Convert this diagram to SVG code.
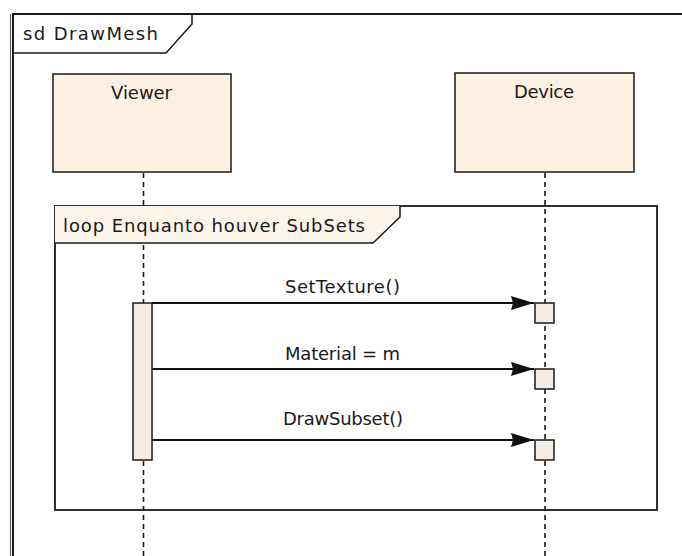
<svg xmlns="http://www.w3.org/2000/svg" width="682" height="556" viewBox="0 0 682 556">
<defs>
<style>
.t{font-family:"DejaVu Sans","Liberation Sans",sans-serif;font-size:18px;fill:#1a1a1a;}
.box{fill:#fbf0e1;stroke:#1a1a1a;stroke-width:1.5;}
.act{fill:#f3ece4;stroke:#1a1a1a;stroke-width:1.5;}
.life{stroke:#1a1a1a;stroke-width:1.6;stroke-dasharray:5 4;fill:none;}
.msg{stroke:#111;stroke-width:1.8;fill:none;}
.frame{fill:none;stroke:#1a1a1a;stroke-width:2;}
</style>
<marker id="ah" markerUnits="userSpaceOnUse" markerWidth="24" markerHeight="16" refX="23" refY="8" orient="auto">
<path d="M0,1 L23,8 L0,15 L2,8 Z" fill="#111"/>
</marker>
</defs>
<rect width="682" height="556" fill="#ffffff"/>
<g id="frame-sd">
<path class="frame" d="M13,556 L13,14 L682,14"/>
<line x1="10.5" y1="14" x2="10.5" y2="556" stroke="#555" stroke-width="1"/>
<path d="M13,53 L166,53 L192,24 L192,14" fill="none" stroke="#1a1a1a" stroke-width="1.5"/>
<text class="t" x="23" y="40" textLength="135" lengthAdjust="spacing">sd DrawMesh</text>
</g>
<g id="lifelines">
<line class="life" x1="143.5" y1="173" x2="143.5" y2="556"/>
<line class="life" x1="545" y1="173" x2="545" y2="556"/>
</g>
<g id="viewer">
<rect class="box" x="53" y="74" width="178" height="98"/>
<text class="t" x="111" y="99" textLength="61" lengthAdjust="spacing">Viewer</text>
</g>
<g id="device">
<rect class="box" x="455" y="73" width="179" height="99"/>
<text class="t" x="514" y="98" textLength="60" lengthAdjust="spacing">Device</text>
</g>
<g id="loop">
<rect x="55" y="206" width="602" height="304" fill="none" stroke="#1a1a1a" stroke-width="1.8"/>
<path d="M55,206 L400,206 L400,217 L373,243 L55,243 Z" fill="#fbf4ea" stroke="none"/>
<path d="M55,243 L373,243 L400,217 L400,206" fill="none" stroke="#1a1a1a" stroke-width="1.5"/>
<text class="t" x="63" y="232" textLength="302" lengthAdjust="spacing">loop Enquanto houver SubSets</text>
</g>
<g id="viewer-activation">
<rect class="act" x="133" y="303" width="19" height="157"/>
</g>
<g id="device-activations">
<rect class="act" x="535" y="303" width="19" height="20"/>
<rect class="act" x="535" y="369" width="19" height="20"/>
<rect class="act" x="535" y="440" width="19" height="20"/>
</g>
<g id="connectors">
<line class="msg" x1="152" y1="303" x2="534" y2="303" marker-end="url(#ah)"/>
<line class="msg" x1="152" y1="369" x2="534" y2="369" marker-end="url(#ah)"/>
<line class="msg" x1="152" y1="440" x2="534" y2="440" marker-end="url(#ah)"/>
<text class="t" x="285" y="293" textLength="115" lengthAdjust="spacing">SetTexture()</text>
<text class="t" x="285" y="360" textLength="115" lengthAdjust="spacing">Material = m</text>
<text class="t" x="283" y="425" textLength="120" lengthAdjust="spacing">DrawSubset()</text>
</g>
</svg>
